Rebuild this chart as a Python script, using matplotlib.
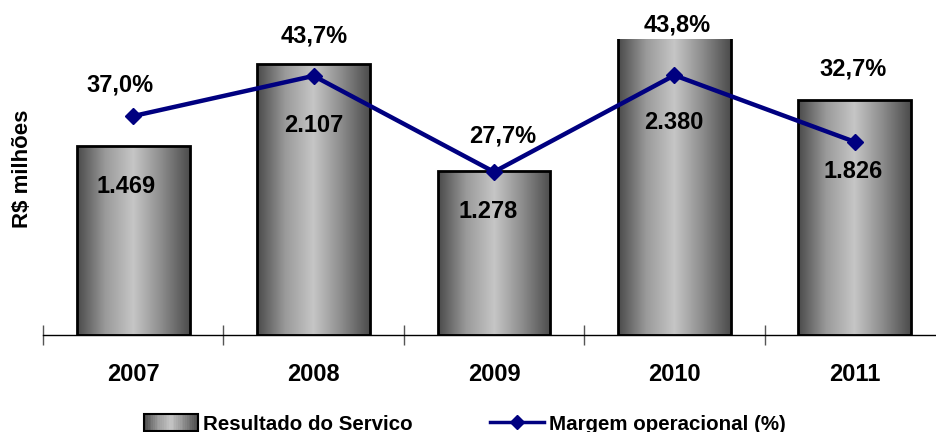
import numpy as np
import matplotlib
matplotlib.use("Agg")
import matplotlib.pyplot as plt
from matplotlib.colors import LinearSegmentedColormap
from matplotlib.patches import Rectangle
from matplotlib.lines import Line2D
from matplotlib.legend_handler import HandlerBase

# data
years = ["2007", "2008", "2009", "2010", "2011"]
resultado = [1469, 2107, 1278, 2380, 1826]
margem = [37.0, 43.7, 27.7, 43.8, 32.7]

# label offsets in pixels (picked to match the original layout)
pct_offsets = [(-13, 31), (1, 40), (9, 36), (3, 50), (-2, 73)]
val_offsets = [(-7, -40), (0, -61), (-6, -41), (-1, -94), (-2, -71)]

plt.rcParams["font.family"] = ["Liberation Sans", "DejaVu Sans"]
plt.rcParams["font.weight"] = "bold"

gray_cmap = LinearSegmentedColormap.from_list(
    "bar", [(0.0, "#4a4a4a"), (0.25, "#9a9a9a"), (0.5, "#c6c6c6"),
            (0.75, "#8c8c8c"), (1.0, "#4c4c4c")])


class GradientHandler(HandlerBase):
    def create_artists(self, legend, orig_handle, xdescent, ydescent,
                       width, height, fontsize, trans):
        arts = []
        n = 30
        for k in range(n):
            c = gray_cmap((k + 0.5) / n)
            arts.append(Rectangle((xdescent + width * k / n, ydescent - 1), width / n + 0.3,
                                  height + 2, facecolor=c, edgecolor="none", transform=trans))
        arts.append(Rectangle((xdescent, ydescent - 1), width, height + 2, facecolor="none",
                              edgecolor="black", linewidth=1.5, transform=trans))
        return arts


fig = plt.figure(figsize=(9.36, 4.32), dpi=100)
ax = fig.add_axes([43 / 936, 1 - 335 / 432, 902 / 936, 296 / 432])
x = np.arange(len(years))
ymax = 2302

bars = ax.bar(x, resultado, width=0.625, facecolor="none", edgecolor="black",
              linewidth=2, zorder=3)
grad = np.linspace(0, 1, 256).reshape(1, -1)
for b in bars:
    bx, by = b.get_x(), b.get_y()
    top = min(by + b.get_height(), ymax)
    im = ax.imshow(grad, cmap=gray_cmap, aspect="auto", zorder=2,
                   extent=[bx, bx + b.get_width(), by, top])
    im.set_clip_path(b)

ax.set_xlim(-0.5, len(years) - 0.5)
ax.set_ylim(0, ymax)
for s in ["top", "right", "left"]:
    ax.spines[s].set_visible(False)
ax.spines["bottom"].set_linewidth(1)
ax.set_yticks([])
ax.set_xticks(x)
ax.set_xticklabels(years, fontsize=17, fontweight="bold")
ax.tick_params(axis="x", which="major", length=0, pad=20)
ax.set_xticks(np.arange(-0.5, len(years)), minor=True)
ax.tick_params(axis="x", which="minor", direction="inout", length=14, width=1, color="#555555")
ax.set_ylabel("R$ milhões", fontsize=16, fontweight="bold")
ax.yaxis.set_label_coords(-10 / 902, (335 - 169) / 296)

for i, v in enumerate(resultado):
    ax.annotate(f"{v:,}".replace(",", "."), xy=(i, v), xytext=val_offsets[i],
                textcoords="offset pixels", ha="center", va="center",
                fontsize=17, fontweight="bold", zorder=5, annotation_clip=False)

ax2 = ax.twinx()
ax2.plot(x, margem, color="#000080", linewidth=3.2, marker="D", markersize=8.5,
         zorder=4, clip_on=False)
ax2.set_ylim(0.5, 49.85)
ax2.axis("off")
for i, p in enumerate(margem):
    ax2.annotate(f"{p:.1f}%".replace(".", ","), xy=(i, p), xytext=pct_offsets[i],
                 textcoords="offset pixels", ha="center", va="center",
                 fontsize=17, fontweight="bold", annotation_clip=False)

h_bar = Rectangle((0, 0), 1, 1)
h_line = Line2D([], [], color="#000080", linewidth=2.5, marker="D", markersize=7)
fig.legend([h_bar, h_line], ["Resultado do Servico", "Margem operacional (%)"],
           handler_map={Rectangle: GradientHandler()},
           loc="center", bbox_to_anchor=(465 / 936, 1 - 424 / 432), ncol=2, frameon=False,
           prop={"family": "Liberation Sans", "weight": "bold", "size": 14.8},
           handlelength=2.6, handletextpad=0.25, columnspacing=3.8, borderaxespad=0)

fig.savefig("out.png", dpi=100)
